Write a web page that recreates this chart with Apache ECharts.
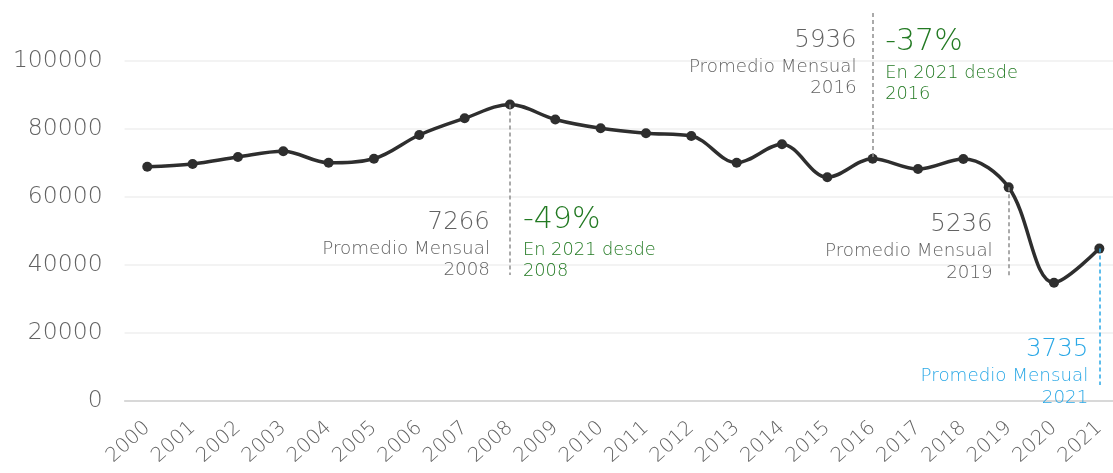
<!DOCTYPE html>
<html>
<head>
<meta charset="utf-8">
<script src="https://cdn.jsdelivr.net/npm/echarts@6/dist/echarts.min.js"></script>
<style>html,body{margin:0;padding:0;background:#fff;overflow:hidden}#c{width:1122px;height:473px}</style>
</head>
<body>
<div id="c"></div>
<script>
// ---- data ----
const years = ['2000','2001','2002','2003','2004','2005','2006','2007','2008','2009','2010','2011','2012','2013','2014','2015','2016','2017','2018','2019','2020','2021'];
const annual = [68910, 69706, 71765, 73440, 70090, 71265, 78235, 83148, 87192, 82800, 80210, 78735, 77940, 70090, 75500, 65790, 71232, 68236, 71177, 62832, 34794, 44820];
const yTickValues = [0, 20000, 40000, 60000, 80000, 100000];

// guide lines: year, from value, to value
const guideYears = ['2008', '2016', '2019', '2021'];
const guideFrom  = [87192, 114100, 62832, 44820];
const guideTo    = [37060, 71232, 36765, 4706];

// monthly average notes (left of guide)
const avgYears  = ['2008', '2016', '2019', '2021'];
const avgValues = ['7266', '5936', '5236', '3735'];
const avgAnchor = [46177, 99707, 45440, 8677];

// change notes (right of guide)
const chgYears  = ['2008', '2016'];
const chgValues = ['-49%', '-37%'];
const chgAnchor = [46971, 99236];
const avgText = 'Promedio Mensual';
const chgText = 'En 2021 desde';

// ---- chart ----
const FONT = 'DejaVu Sans';
const GRAY = '#626262';
const GREEN = '#237a23';
const BLUE = '#2aa8e6';
const DASH = '#8f8f8f';

const chart = echarts.init(document.getElementById('c'), null, {renderer: 'canvas'});
const idx = y => years.indexOf(y);

const markLineData = guideYears.map((y, i) => [
  {coord: [idx(y), guideFrom[i]], lineStyle: {color: y === '2021' ? BLUE : DASH}},
  {coord: [idx(y), guideTo[i]]}
]);

const avgDist = [20, 16, 16, 11];
const markPointData = [];
avgYears.forEach((y, i) => {
  const c = y === '2021' ? BLUE : GRAY;
  markPointData.push({
    coord: [idx(y), avgAnchor[i]],
    label: {
      show: true, position: 'left', distance: avgDist[i], align: 'right', verticalAlign: 'middle',
      formatter: '{a|' + avgValues[i] + '}\n{b|' + avgText + '}\n{b|' + y + '}',
      rich: {
        a: {fontFamily: FONT, fontWeight: 200, fontSize: 24.5, lineHeight: 31.5, color: c, align: 'right'},
        b: {fontFamily: FONT, fontWeight: 200, fontSize: 18.3, lineHeight: 21.5, color: c, align: 'right'}
      }
    }
  });
});
const chgDist = [13, 12.5];
chgYears.forEach((y, i) => {
  markPointData.push({
    coord: [idx(y), chgAnchor[i]],
    label: {
      show: true, position: 'right', distance: chgDist[i], align: 'left', verticalAlign: 'middle',
      formatter: '{a|' + chgValues[i] + '}\n{b|' + chgText + '}\n{b|' + y + '}',
      rich: {
        a: {fontFamily: FONT, fontWeight: 200, fontSize: 30, lineHeight: 40, color: GREEN, align: 'left'},
        b: {fontFamily: FONT, fontWeight: 200, fontSize: 17.8, lineHeight: 21, color: GREEN, align: 'left'}
      }
    }
  });
});

chart.setOption({
  animation: false,
  backgroundColor: '#fff',
  textStyle: {fontFamily: FONT},
  grid: {left: 124.6, right: 0, top: 0, bottom: 72, containLabel: false},
  xAxis: {
    type: 'category',
    data: years,
    boundaryGap: true,
    axisLine: {show: true, lineStyle: {color: '#d0d0d0', width: 1.5}},
    axisTick: {show: false},
    axisLabel: {color: GRAY, fontSize: 20, fontWeight: 200, fontFamily: FONT, rotate: 42, margin: 24, interval: 0}
  },
  yAxis: {
    type: 'value',
    min: 0, max: 117941, interval: 20000,
    axisLine: {show: false},
    axisTick: {show: false},
    axisLabel: {
      color: GRAY, fontSize: 23.5, fontWeight: 200, fontFamily: FONT, margin: 22,
      showMaxLabel: false,
      formatter: v => yTickValues.indexOf(v) >= 0 ? String(v) : ''
    },
    splitLine: {showMaxLine: false, lineStyle: {color: '#efefef', width: 1.5}}
  },
  series: [{
    type: 'line',
    data: annual,
    smooth: 0.35,
    clip: false,
    symbol: 'circle',
    symbolSize: 10,
    lineStyle: {color: '#2e2e2e', width: 3.5},
    itemStyle: {color: '#2e2e2e'},
    emphasis: {disabled: true},
    markLine: {
      silent: true,
      symbol: ['none', 'none'],
      label: {show: false},
      lineStyle: {type: [4, 3], width: 1.5, color: DASH},
      emphasis: {disabled: true},
      data: markLineData
    },
    markPoint: {
      silent: true,
      symbol: 'circle',
      symbolSize: 0,
      itemStyle: {color: 'rgba(0,0,0,0)'},
      data: markPointData
    }
  }]
});
</script>
</body>
</html>
